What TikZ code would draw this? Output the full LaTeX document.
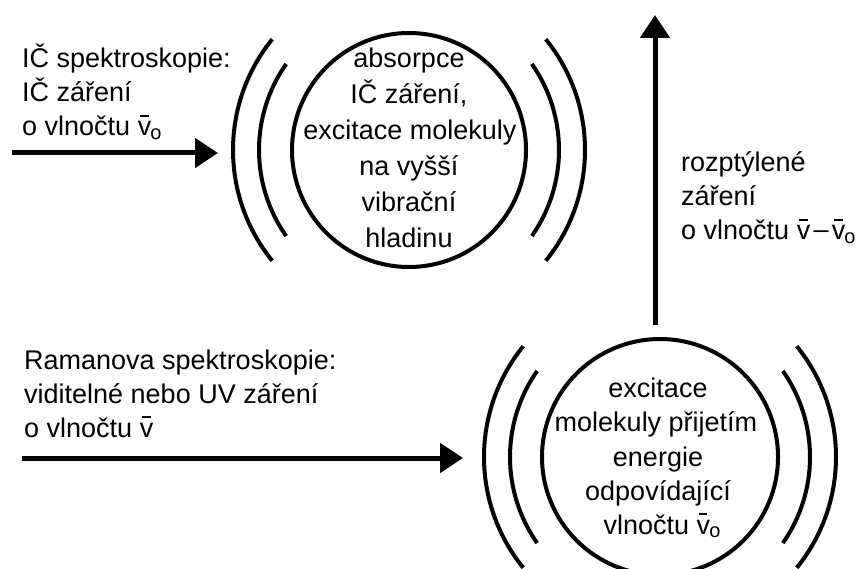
\documentclass[tikz,border=0pt]{standalone}
\usepackage{fontspec}
\setmainfont{Liberation Sans}
\usetikzlibrary{arrows.meta}

% wavenumber symbol: v with a short bar above
\newcommand{\wvb}{\leavevmode\rlap{\kern0.1em\rule[0.7em]{0.3em}{0.065em}}v}
% lowered small "o" index
\newcommand{\wsub}{\kern-0.03em\raisebox{-3.5pt}{\fontsize{20}{20}\selectfont o}}

\tikzset{
  x=1pt, y=1pt,
  lbl/.style={inner sep=0pt, font=\fontsize{27}{33}\selectfont},
  ring/.style={draw, circle, line width=4pt, inner sep=0pt},
  wave/.style={line width=4pt},
  ray/.style={line width=5pt, -{Triangle[length=23pt, width=29pt]}}
}

\begin{document}
\begin{tikzpicture}
\clip (0,0) rectangle (859,-569);
\fill[white] (0,0) rectangle (859,-569);

% molecule circles
\node[ring, minimum size=234pt] (ir) at (409,-150) {};
\node[ring, minimum size=236pt] (ram) at (660,-457) {};

% vibration arcs around both circles
\foreach \c in {ir, ram} {
  \draw[wave] ([shift={(145:150)}]\c.center) arc[start angle=145, end angle=215, radius=150];
  \draw[wave] ([shift={(141:176)}]\c.center) arc[start angle=141, end angle=219, radius=176];
  \draw[wave] ([shift={(-35:150)}]\c.center) arc[start angle=-35, end angle=35, radius=150];
  \draw[wave] ([shift={(-39:176)}]\c.center) arc[start angle=-39, end angle=39, radius=176];
}

% IR spectroscopy label
\node[lbl, anchor=base west] (ir1) at (22,-68) {IČ spektroskopie:};
\node[lbl, anchor=base west] (ir2) at (22,-102) {IČ záření};
\node[lbl, anchor=base west] (ir3) at (22,-136) {o vlnočtu \wvb\wsub};

% text inside the upper circle
\node[lbl, anchor=base] (ab1) at (409,-68) {absorpce};
\node[lbl, anchor=base] (ab2) at (409,-104) {IČ záření,};
\node[lbl, anchor=base] (ab3) at (410,-140) {excitace molekuly};
\node[lbl, anchor=base] (ab4) at (409,-176) {na vyšší};
\node[lbl, anchor=base] (ab5) at (409,-212) {vibrační};
\node[lbl, anchor=base] (ab6) at (409,-248) {hladinu};

% scattered radiation label
\node[lbl, anchor=base west] (sc1) at (681,-172) {rozptýlené};
\node[lbl, anchor=base west] (sc2) at (681,-206) {záření};
\node[lbl, anchor=base west] (sc3) at (681,-240) {o vlnočtu \wvb\kern0.12em\raisebox{0.06em}{–}\kern0.12em\wvb\wsub};

% Raman spectroscopy label
\node[lbl, anchor=base west] (ra1) at (24,-369) {Ramanova spektroskopie:};
\node[lbl, anchor=base west] (ra2) at (24,-403) {viditelné nebo UV záření};
\node[lbl, anchor=base west] (ra3) at (24,-437) {o vlnočtu \wvb};

% text inside the lower circle
\node[lbl, anchor=base] (ex1) at (658,-397) {excitace};
\node[lbl, anchor=base] (ex2) at (656,-431) {molekuly přijetím};
\node[lbl, anchor=base] (ex3) at (658,-466) {energie};
\node[lbl, anchor=base] (ex4) at (658,-500) {odpovídající};
\node[lbl, anchor=base] (ex5) at (662,-534) {vlnočtu \wvb\wsub};

% radiation arrows
\coordinate (irfrom) at (12,-153);
\coordinate (irto) at (218,-153);
\coordinate (rafrom) at (22,-458);
\coordinate (rato) at (463,-458);
\coordinate (scfrom) at (655,-325);
\coordinate (scto) at (655,-15);
\draw[ray] (irfrom) -- (irto);
\draw[ray] (rafrom) -- (rato);
\draw[ray] (scfrom) -- (scto);
\end{tikzpicture}
\end{document}
